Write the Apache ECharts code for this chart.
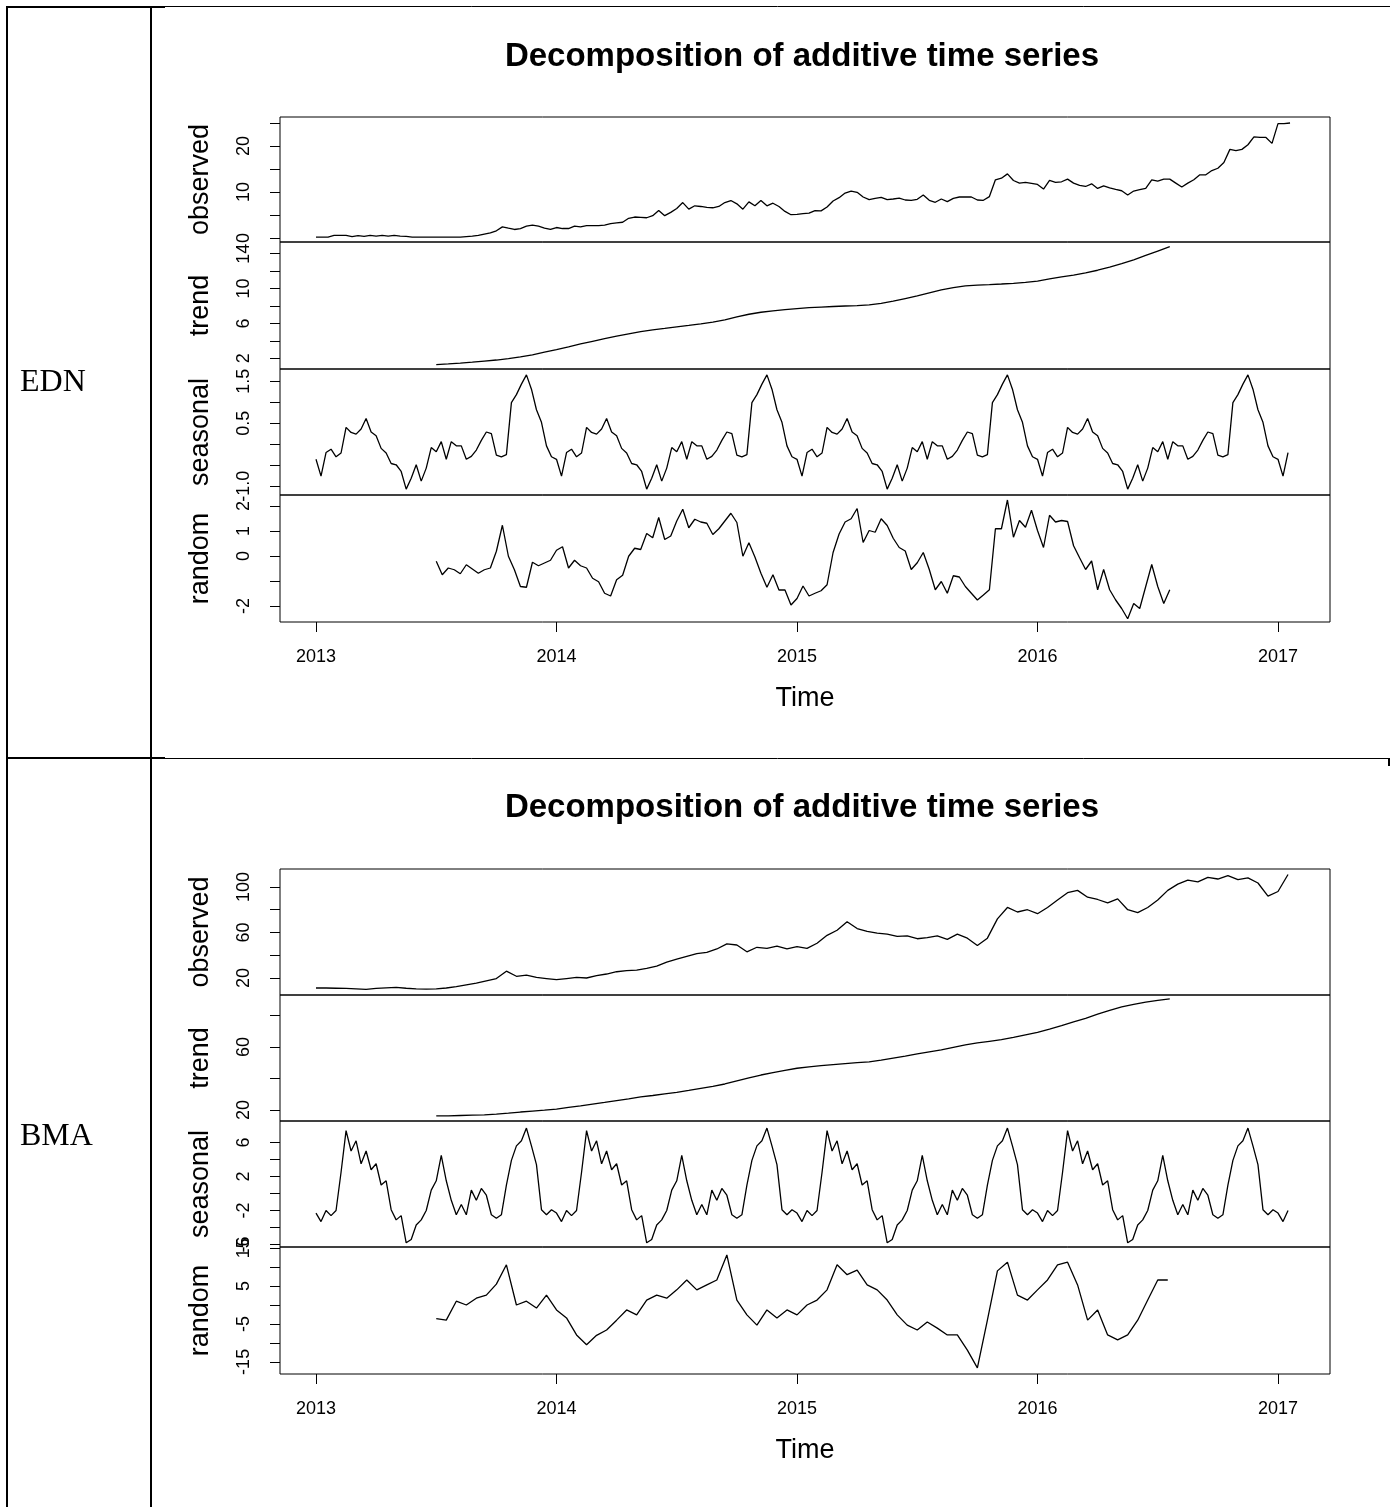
<!DOCTYPE html>
<html>
<head>
<meta charset="utf-8">
<script src="https://cdn.jsdelivr.net/npm/echarts@6/dist/echarts.min.js"></script>
<style>
html, body { margin: 0; padding: 0; background: #fff; }
#chart { width: 1395px; height: 1507px; }
</style>
</head>
<body>
<div id="chart"></div>
<script>
var years = [2013, 2014, 2015, 2016, 2017];

// EDN -- observed, every 1/40 year from 2013.0
var ednObserved = [0.2,0.2,0.2,0.56,0.56,0.56,0.3,0.5,0.35,0.56,
    0.42,0.56,0.42,0.56,0.42,0.35,0.2,0.2,0.2,0.2,
    0.2,0.2,0.2,0.2,0.2,0.3,0.4,0.56,0.85,1.13,
    1.56,2.42,2.13,1.85,2.06,2.56,2.78,2.56,2.13,1.85,
    2.28,2.06,2.06,2.56,2.42,2.7,2.7,2.7,2.78,3.13,
    3.28,3.42,4.28,4.56,4.5,4.4,4.85,6.0,4.85,5.56,
    6.42,7.7,6.27,7.0,6.85,6.64,6.57,6.85,7.7,8.14,
    7.42,6.27,7.85,7.0,8.14,7.0,7.56,6.85,5.78,5.06,
    5.13,5.28,5.39,5.96,5.89,6.75,8.05,8.77,9.77,10.2,
    9.92,8.91,8.33,8.62,8.84,8.33,8.48,8.69,8.26,8.19,
    8.41,9.34,8.19,7.76,8.48,7.9,8.62,8.91,8.91,8.91,
    8.26,8.19,9.0,12.65,13.0,13.94,12.5,11.93,12.07,11.86,
    11.64,10.63,12.5,12.07,12.22,12.79,11.93,11.42,11.2,11.78,
    10.78,11.35,10.92,10.56,10.27,9.34,10.2,10.49,10.78,12.65,
    12.36,12.79,12.79,11.93,11.07,11.93,12.65,13.73,13.73,14.66,
    15.16,16.39,19.26,18.97,19.26,20.27,22.0,21.85,21.85,20.56,
    24.87,24.87,25.0];
// EDN -- trend, every 0.05 year from 2013.5
var ednTrend = [1.28,1.35,1.45,1.56,1.68,1.8,1.95,2.15,2.4,2.7,
    3.0,3.32,3.65,3.95,4.25,4.55,4.8,5.05,5.25,5.42,
    5.6,5.77,5.95,6.15,6.4,6.75,7.05,7.28,7.45,7.58,
    7.7,7.8,7.88,7.94,8.0,8.05,8.12,8.3,8.55,8.85,
    9.15,9.5,9.85,10.1,10.3,10.4,10.45,10.52,10.6,10.7,
    10.85,11.1,11.35,11.55,11.8,12.1,12.45,12.85,13.3,13.8,
    14.3,14.8];
// EDN -- seasonal figure, one year in 48 steps (repeats every year)
var ednSeasonalFigure = [-0.36,-0.76,-0.20,-0.12,-0.30,-0.21,0.40,0.28,0.24,0.36,
    0.61,0.29,0.20,-0.10,-0.21,-0.46,-0.49,-0.65,-1.07,-0.81,
    -0.49,-0.88,-0.57,-0.08,-0.18,0.06,-0.36,0.06,-0.04,-0.04,
    -0.36,-0.29,-0.14,0.09,0.29,0.25,-0.26,-0.30,-0.25,0.99,
    1.18,1.43,1.65,1.31,0.82,0.52,-0.04,-0.30];
// EDN -- random, every 1/40 year from 2013.5
var ednRandom = [-0.21,-0.75,-0.48,-0.55,-0.71,-0.35,-0.52,-0.69,-0.55,-0.48,
    0.19,1.23,-0.01,-0.55,-1.22,-1.25,-0.25,-0.39,-0.28,-0.17,
    0.23,0.37,-0.48,-0.17,-0.39,-0.48,-0.89,-1.03,-1.49,-1.60,
    -0.95,-0.77,-0.01,0.31,0.26,0.90,0.73,1.54,0.66,0.80,
    1.40,1.87,1.13,1.47,1.36,1.31,0.86,1.09,1.40,1.71,
    1.34,-0.01,0.53,-0.04,-0.69,-1.25,-0.75,-1.36,-1.36,-1.96,
    -1.70,-1.20,-1.60,-1.49,-1.39,-1.15,0.14,0.88,1.36,1.49,
    1.90,0.54,1.02,0.95,1.49,1.22,0.71,0.34,0.20,-0.54,
    -0.27,0.14,-0.54,-1.35,-1.02,-1.49,-0.79,-0.84,-1.22,-1.49,
    -1.76,-1.56,-1.35,1.09,1.09,2.24,0.75,1.42,1.15,1.83,
    1.02,0.34,1.63,1.36,1.42,1.38,0.41,-0.07,-0.54,-0.20,
    -1.35,-0.54,-1.35,-1.76,-2.10,-2.51,-1.90,-2.10,-1.22,-0.34,
    -1.22,-1.90,-1.35];

// BMA -- observed, every 1/24 year from 2013.0
var bmaObserved = [11.2,11.2,11.0,10.8,10.5,10.0,10.8,11.4,11.8,11.0,
    10.5,10.2,10.5,11.2,12.5,14.0,15.5,17.5,19.5,26.0,
    21.5,22.5,20.5,19.5,18.5,19.5,20.5,20.0,22.0,23.5,
    25.5,26.5,27.0,28.5,30.5,34.0,36.5,39.0,41.5,42.5,
    45.5,50.0,49.0,43.0,47.0,46.0,48.0,45.5,47.5,46.0,
    50.5,57.5,62.0,69.5,63.5,61.0,59.5,58.5,56.5,57.0,
    54.5,55.5,57.0,54.0,58.5,55.0,48.5,55.0,72.0,82.0,
    78.0,80.0,76.5,82.0,88.5,95.0,97.0,91.0,89.0,86.0,
    89.5,80.0,77.5,82.0,88.5,97.0,102.5,106.0,104.5,108.5,
    107.0,110.0,106.5,108.0,103.5,92.0,96.0,111.0];
// BMA -- trend, every 0.05 year from 2013.5
var bmaTrend = [16.2,16.3,16.5,16.7,16.9,17.4,18.0,18.7,19.3,19.9,
    20.6,21.6,22.6,23.7,24.8,26.0,27.1,28.3,29.2,30.2,
    31.2,32.4,33.7,35.0,36.5,38.5,40.4,42.2,43.7,45.1,
    46.5,47.4,48.1,48.8,49.4,50.0,50.5,51.6,52.9,54.2,
    55.6,56.9,58.1,59.7,61.3,62.6,63.6,64.6,66.1,67.7,
    69.3,71.4,73.6,75.9,78.2,80.8,83.3,85.4,87.1,88.5,
    89.6,90.5];
// BMA -- seasonal figure, one year in 48 steps
var bmaSeasonalFigure = [-2.3,-3.3,-2.0,-2.6,-2.0,2.5,7.4,5.0,6.2,3.5,
    5.0,2.8,3.5,1.0,1.5,-1.9,-3.1,-2.6,-5.8,-5.4,
    -3.7,-3.1,-2.0,0.4,1.5,4.5,1.5,-0.8,-2.5,-1.3,
    -2.5,0.4,-0.8,0.6,-0.2,-2.5,-2.9,-2.5,1.0,3.9,
    5.6,6.2,7.7,5.6,3.4,-1.9,-2.5,-1.9];
// BMA -- random, every 1/24 year from 2013.5
var bmaRandom = [-3.6,-4.0,1.0,0.0,1.8,2.6,5.5,10.6,0.0,1.0,
    -0.8,2.6,-1.3,-3.4,-7.9,-10.5,-8.0,-6.6,-4.0,-1.3,
    -2.6,1.3,2.6,1.8,4.0,6.6,4.0,5.3,6.6,13.2,
    1.3,-2.6,-5.3,-1.3,-3.4,-1.3,-2.6,0.0,1.3,4.0,
    10.6,8.0,9.2,5.3,4.0,1.3,-2.6,-5.3,-6.6,-4.5,
    -6.1,-7.9,-7.9,-11.9,-16.6,-4.0,9.0,11.3,2.6,1.3,
    4.0,6.6,10.6,11.3,5.3,-4.0,-1.3,-7.9,-9.2,-7.9,
    -4.0,1.3,6.6,6.6];

var FONT = '"Liberation Sans", Arial, sans-serif';
var X_MIN = 2012.8503, X_MAX = 2017.2162;

function regular(start, step, values) {
    return values.map(function (v, i) { return [start + i * step, v]; });
}
// decompose() repeats the same seasonal figure every year
function seasonal(fig, end) {
    var out = [];
    for (var k = 0; 2013 + k / fig.length <= end + 1e-9; k++) {
        out.push([2013 + k / fig.length, fig[k % fig.length]]);
    }
    return out;
}

var oneDec = function (v) { return Number(v).toFixed(1); };
var plain = function (v) { return String(v); };

var panels = [
    { name: 'observed', top: 117, height: 125, min: -0.87, max: 26.3, ticks: [0, 5, 10, 15, 20, 25], labels: [0, 10, 20], fmt: plain,
      data: regular(2013, 1 / 40, ednObserved) },
    { name: 'trend', top: 242, height: 127, min: 0.77, max: 15.34, ticks: [2, 4, 6, 8, 10, 12, 14], labels: [2, 6, 10, 14], fmt: plain,
      data: regular(2013.5, 0.05, ednTrend) },
    { name: 'seasonal', top: 369, height: 126, min: -1.21, max: 1.79, ticks: [-1, -0.5, 0, 0.5, 1, 1.5], labels: [-1, 0.5, 1.5], fmt: oneDec,
      data: seasonal(ednSeasonalFigure, 2017.05) },
    { name: 'random', top: 495, height: 127, min: -2.64, max: 2.44, ticks: [-2, -1, 0, 1, 2], labels: [-2, 0, 1, 2], fmt: plain,
      data: regular(2013.5, 1 / 40, ednRandom), bottom: true },
    { name: 'observed', top: 869, height: 126, min: 5.05, max: 115.8, ticks: [20, 40, 60, 80, 100], labels: [20, 60, 100], fmt: plain,
      data: regular(2013, 1 / 24, bmaObserved) },
    { name: 'trend', top: 995, height: 126, min: 13, max: 93, ticks: [20, 40, 60, 80], labels: [20, 60], fmt: plain,
      data: regular(2013.5, 0.05, bmaTrend) },
    { name: 'seasonal', top: 1121, height: 126, min: -6.29, max: 8.53, ticks: [-6, -4, -2, 0, 2, 4, 6], labels: [-6, -2, 2, 6], fmt: plain,
      data: seasonal(bmaSeasonalFigure, 2017.05) },
    { name: 'random', top: 1247, height: 127, min: -18.2, max: 15.3, ticks: [-15, -10, -5, 0, 5, 10, 15], labels: [-15, -5, 5, 15], fmt: plain,
      data: regular(2013.5, 1 / 24, bmaRandom), bottom: true }
];

var grids = [], xAxes = [], yAxes = [], seriesList = [];
panels.forEach(function (p, i) {
    grids.push({ left: 280, width: 1050, top: p.top, height: p.height, show: true,
        borderColor: '#000', borderWidth: 1, backgroundColor: 'transparent' });
    xAxes.push({
        type: 'value', gridIndex: i, min: X_MIN, max: X_MAX,
        axisLine: { show: false, onZero: false },
        splitLine: { show: false },
        axisTick: { show: !!p.bottom, length: 10, customValues: years, lineStyle: { color: '#000' } },
        axisLabel: { show: !!p.bottom, customValues: years, margin: 26, fontSize: 18, color: '#000', fontFamily: FONT,
            formatter: plain },
        name: p.bottom ? 'Time' : '', nameLocation: 'middle', nameGap: 63,
        nameTextStyle: { fontSize: 27, color: '#000', fontFamily: FONT }
    });
    yAxes.push({
        type: 'value', gridIndex: i, min: p.min, max: p.max,
        name: p.name, nameLocation: 'middle', nameRotate: 90, nameGap: 66,
        nameTextStyle: { fontSize: 27, color: '#000', fontFamily: FONT },
        axisLine: { show: false, onZero: false },
        splitLine: { show: false },
        axisTick: { show: true, length: 10, customValues: p.ticks, lineStyle: { color: '#000' } },
        axisLabel: { customValues: p.labels, rotate: 90, margin: 27, fontSize: 18, color: '#000', fontFamily: FONT, formatter: p.fmt }
    });
    seriesList.push({
        type: 'line', xAxisIndex: i, yAxisIndex: i, data: p.data,
        showSymbol: false, silent: true,
        lineStyle: { color: '#000', width: 1.3 }
    });
});

function hline(x1, x2, y, w) {
    return { type: 'line', shape: { x1: x1, y1: y, x2: x2, y2: y }, style: { stroke: '#000', lineWidth: w } };
}
function vline(x, y1, y2, w) {
    return { type: 'line', shape: { x1: x, y1: y1, x2: x, y2: y2 }, style: { stroke: '#000', lineWidth: w } };
}
function txt(x, y, text, font, align) {
    return { type: 'text', x: x, y: y,
        style: { text: text, font: font, fill: '#000', textAlign: align, textVerticalAlign: 'middle' } };
}

var chart = echarts.init(document.getElementById('chart'));
chart.setOption({
    animation: false,
    backgroundColor: '#fff',
    grid: grids,
    xAxis: xAxes,
    yAxis: yAxes,
    series: seriesList,
    graphic: [
        vline(7, 6, 1507, 2),
        vline(151, 6, 1507, 2),
        hline(6, 165, 7, 2),
        hline(165, 1390, 6.5, 1),
        hline(6, 165, 758, 2),
        hline(165, 1390, 758.5, 1),
        vline(1389, 758, 766, 2),
        txt(802, 57, 'Decomposition of additive time series', 'bold 33px ' + FONT, 'center'),
        txt(802, 808, 'Decomposition of additive time series', 'bold 33px ' + FONT, 'center'),
        txt(20, 383, 'EDN', '32px "Liberation Serif", "Times New Roman", serif', 'left'),
        txt(20, 1137, 'BMA', '32px "Liberation Serif", "Times New Roman", serif', 'left')
    ]
});
</script>
</body>
</html>
